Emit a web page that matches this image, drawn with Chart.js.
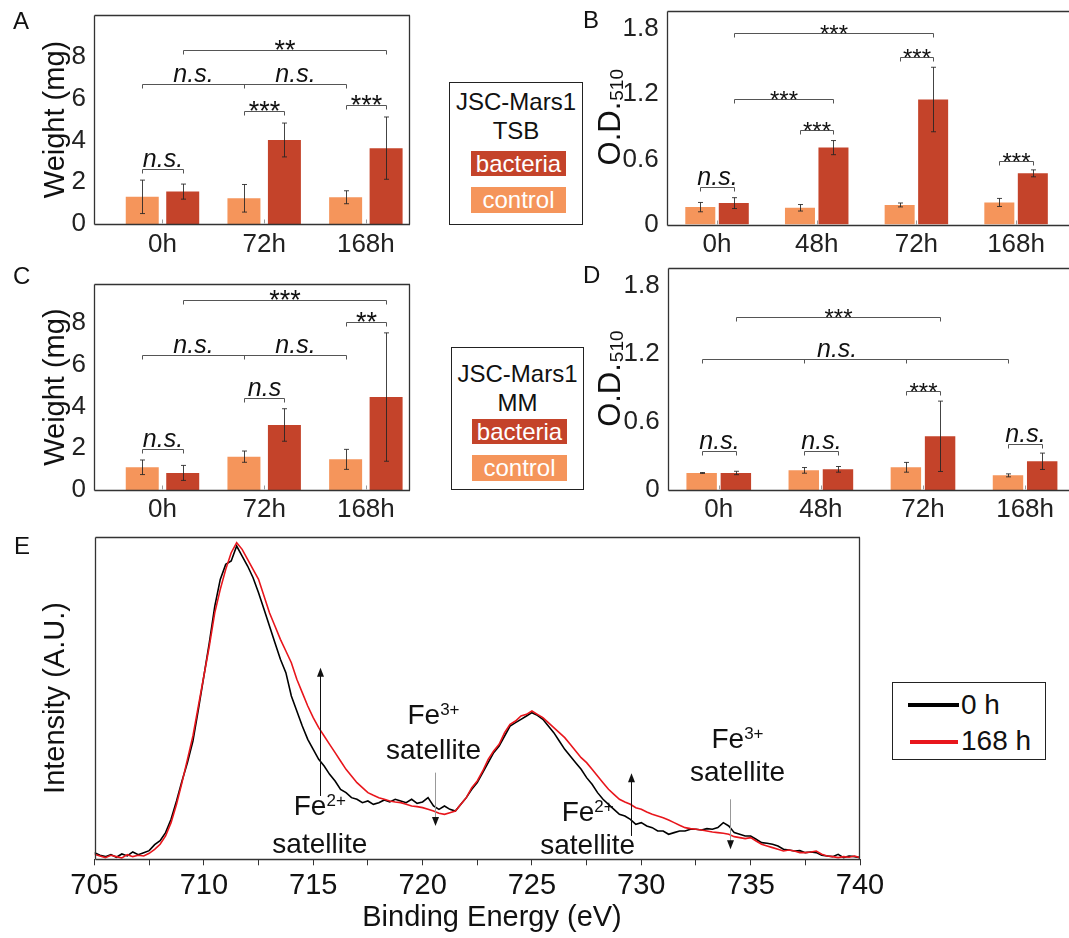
<!DOCTYPE html>
<html>
<head>
<meta charset="utf-8">
<script src="https://cdn.jsdelivr.net/npm/chart.js@4/dist/chart.umd.min.js"></script>
<style>
body { margin: 0; background: #fff; width: 1069px; height: 938px; overflow: hidden; position: relative; font-family: "Liberation Sans", Arial, sans-serif; color: #111; }
canvas { position: absolute; }
.t { position: absolute; white-space: nowrap; }
.let { font-size: 24px; line-height: 24px; }
.box { position: absolute; border: 1px solid #222; box-sizing: border-box; background: #fff; }
.ln { position: absolute; left: 0; width: 100%; text-align: center; font-size: 24px; line-height: 24px; }
.sw { position: absolute; color: #fff; font-size: 24px; text-align: center; }
</style>
</head>
<body>
<canvas id="cA" width="420" height="265" style="left:0;top:0"></canvas>
<canvas id="cB" width="499" height="265" style="left:570px;top:0"></canvas>
<canvas id="cC" width="420" height="265" style="left:0;top:265px"></canvas>
<canvas id="cD" width="499" height="265" style="left:570px;top:265px"></canvas>
<canvas id="cE" width="890" height="408" style="left:0;top:530px"></canvas>

<div class="t let" style="left:13px;top:9px">A</div>
<div class="t let" style="left:583px;top:8px">B</div>
<div class="t let" style="left:13px;top:264px">C</div>
<div class="t let" style="left:583px;top:263px">D</div>
<div class="t let" style="left:14px;top:534px">E</div>

<div class="box" style="left:449px;top:82px;width:134px;height:143px">
  <div class="ln" style="top:7px">JSC-Mars1</div>
  <div class="ln" style="top:36px">TSB</div>
  <div class="sw" id="swB1" style="left:21px;top:68px;width:95px;height:25px;line-height:25px">bacteria</div>
  <div class="sw" id="swC1" style="left:21px;top:104px;width:95px;height:26px;line-height:26px">control</div>
</div>
<div class="box" style="left:451px;top:347px;width:133px;height:143px">
  <div class="ln" style="top:14px">JSC-Mars1</div>
  <div class="ln" style="top:43px">MM</div>
  <div class="sw" id="swB2" style="left:20px;top:71px;width:95px;height:25px;line-height:25px">bacteria</div>
  <div class="sw" id="swC2" style="left:20px;top:107px;width:95px;height:26px;line-height:26px">control</div>
</div>
<div class="box" style="left:892px;top:682px;width:154px;height:78px">
  <div style="position:absolute;left:15px;top:20px;width:51px;height:4px;background:#000"></div>
  <div style="position:absolute;left:17px;top:57px;width:48px;height:4px;background:#E8161C"></div>
  <div class="t" style="left:68px;top:8px;font-size:28px;line-height:28px">0 h</div>
  <div class="t" style="left:68px;top:44px;font-size:28px;line-height:28px">168 h</div>
</div>

<script>
var font = '"Liberation Sans", Arial, sans-serif';
var ctrlColor = '#F5955B';
var bactColor = '#C4432A';

// A: weight, JSC-Mars1 + TSB
var catsA = ['0h', '72h', '168h'];
var ctrlA = [1.30, 1.23, 1.28];
var ctrlErrA = [0.80, 0.66, 0.31];
var bactA = [1.55, 4.02, 3.63];
var bactErrA = [0.36, 0.81, 1.49];
var bracketsA = [
  { pts: [[0, 0], [0, 1]], y: 2.64, text: ['n.s.'] },
  { pts: [[1, 0], [1, 1]], y: 5.41, text: ['***'] },
  { pts: [[2, 0], [2, 1]], y: 5.70, text: ['***'] },
  { pts: [[0, 0], [1, 0], [2, 0]], y: 6.72, text: ['n.s.', 'n.s.'], at: [0.5, 1.5] },
  { pts: [[0, 1], [2, 1]], y: 8.32, text: ['**'] }
];

// B: O.D.510, JSC-Mars1 + TSB
var catsB = ['0h', '48h', '72h', '168h'];
var ctrlB = [0.160, 0.154, 0.180, 0.203];
var ctrlErrB = [0.043, 0.030, 0.018, 0.037];
var bactB = [0.197, 0.708, 1.151, 0.471];
var bactErrB = [0.050, 0.065, 0.297, 0.032];
var bracketsB = [
  { pts: [[0, 0], [0, 1]], y: 0.345, text: ['n.s.'] },
  { pts: [[1, 0], [1, 1]], y: 0.868, text: ['***'] },
  { pts: [[2, 0], [2, 1]], y: 1.545, text: ['***'] },
  { pts: [[3, 0], [3, 1]], y: 0.582, text: ['***'] },
  { pts: [[0, 1], [1, 1]], y: 1.157, text: ['***'] },
  { pts: [[0, 1], [2, 1]], y: 1.763, text: ['***'] }
];

// C: weight, JSC-Mars1 + MM
var catsC = ['0h', '72h', '168h'];
var ctrlC = [1.09, 1.60, 1.47];
var ctrlErrC = [0.35, 0.27, 0.48];
var bactC = [0.82, 3.12, 4.46];
var bactErrC = [0.36, 0.78, 3.08];
var bracketsC = [
  { pts: [[0, 0], [0, 1]], y: 1.95, text: ['n.s.'] },
  { pts: [[1, 0], [1, 1]], y: 4.43, text: ['n.s'] },
  { pts: [[2, 0], [2, 1]], y: 8.08, text: ['**'] },
  { pts: [[0, 0], [1, 0], [2, 0]], y: 6.48, text: ['n.s.', 'n.s.'], at: [0.5, 1.5] },
  { pts: [[0, 1], [2, 1]], y: 9.12, text: ['***'] }
];

// D: O.D.510, JSC-Mars1 + MM
var catsD = ['0h', '48h', '72h', '168h'];
var ctrlD = [0.150, 0.173, 0.200, 0.129];
var ctrlErrD = [0.004, 0.025, 0.043, 0.013];
var bactD = [0.150, 0.182, 0.473, 0.253];
var bactErrD = [0.015, 0.025, 0.310, 0.072];
var bracketsD = [
  { pts: [[0, 0], [0, 1]], y: 0.344, text: ['n.s.'] },
  { pts: [[1, 0], [1, 1]], y: 0.344, text: ['n.s.'] },
  { pts: [[2, 0], [2, 1]], y: 0.873, text: ['***'] },
  { pts: [[3, 0], [3, 1]], y: 0.403, text: ['n.s.'] },
  { pts: [[0, 0], [1, 0], [2, 0], [3, 0]], y: 1.158, text: ['n.s.'], at: [1.32] },
  { pts: [[0, 1], [2, 1]], y: 1.523, text: ['***'] }
];

var weightTicks = [0, 2, 4, 6, 8];
var odTicks = [0, 0.6, 1.2, 1.8];

// E: Fe 2p XPS spectra
var energyE = [705, 705.25, 705.5, 705.75, 706, 706.25, 706.5, 706.75, 707, 707.25, 707.5, 707.75,
  708, 708.25, 708.5, 708.75, 709, 709.25, 709.5, 709.75, 710, 710.25, 710.5, 710.75,
  711, 711.25, 711.5, 711.75, 712, 712.25, 712.5, 712.75, 713, 713.25, 713.5, 713.75,
  714, 714.25, 714.5, 714.75, 715, 715.25, 715.5, 715.75, 716, 716.25, 716.5, 716.75,
  717, 717.25, 717.5, 717.75, 718, 718.25, 718.5, 718.75, 719, 719.25, 719.5, 719.75,
  720, 720.25, 720.5, 720.75, 721, 721.25, 721.5, 721.75, 722, 722.25, 722.5, 722.75,
  723, 723.25, 723.5, 723.75, 724, 724.25, 724.5, 724.75, 725, 725.25, 725.5, 725.75,
  726, 726.25, 726.5, 726.75, 727, 727.25, 727.5, 727.75, 728, 728.25, 728.5, 728.75,
  729, 729.25, 729.5, 729.75, 730, 730.25, 730.5, 730.75, 731, 731.25, 731.5, 731.75,
  732, 732.25, 732.5, 732.75, 733, 733.25, 733.5, 733.75, 734, 734.25, 734.5, 734.75,
  735, 735.25, 735.5, 735.75, 736, 736.25, 736.5, 736.75, 737, 737.25, 737.5, 737.75,
  738, 738.25, 738.5, 738.75, 739, 739.25, 739.5, 739.75, 740];
var spec0h = [20, 12, 8, 14, 6, 16, 10, 22, 14, 20, 26, 44,
  56, 80, 120, 175, 235, 290, 355, 450, 550, 650, 760, 840,
  885, 895, 940, 910, 880, 845, 800, 750, 700, 650, 600, 560,
  490, 445, 400, 360, 330, 300, 280, 255, 235, 210, 200, 185,
  180, 170, 175, 165, 170, 178, 172, 180, 175, 170, 180, 168,
  172, 185, 160, 150, 160, 150, 145, 165, 185, 210, 230, 260,
  290, 320, 340, 370, 400, 410, 420, 430, 440, 432, 420, 400,
  380, 355, 330, 310, 290, 270, 245, 225, 200, 180, 165, 150,
  135, 130, 120, 105, 110, 100, 95, 85, 85, 75, 80, 85,
  85, 90, 90, 88, 92, 90, 95, 110, 100, 80, 75, 70,
  70, 60, 50, 48, 45, 40, 30, 28, 25, 26, 20, 22,
  20, 12, 10, 8, 15, 5, 10, 8, 5];
var spec168h = [15, 10, 5, 12, 8, 4, 14, 8, 12, 10, 18, 30,
  45, 70, 110, 165, 230, 300, 370, 460, 550, 640, 740, 810,
  870, 920, 950, 930, 900, 870, 840, 790, 740, 700, 660, 625,
  590, 540, 500, 460, 425, 395, 370, 345, 320, 295, 270, 250,
  230, 215, 200, 192, 185, 180, 175, 172, 170, 165, 160, 158,
  155, 150, 145, 138, 135, 140, 145, 165, 185, 215, 235, 265,
  300, 325, 345, 380, 405, 415, 430, 435, 445, 435, 425, 410,
  395, 380, 365, 345, 325, 305, 290, 270, 250, 230, 210, 195,
  180, 172, 165, 155, 150, 142, 135, 130, 125, 118, 110, 102,
  95, 92, 90, 88, 85, 82, 80, 78, 75, 68, 65, 62,
  65, 55, 45, 40, 35, 30, 25, 28, 25, 20, 20, 22,
  25, 15, 10, 8, 5, 8, 6, 10, 5];
var tickE = [705, 707.5, 710, 712.5, 715, 717.5, 720, 722.5, 725, 727.5, 730, 732.5, 735, 737.5, 740];
// satellite notes: x (eV), label baselines and arrow ends in intensity units
var notesE = [
  { x: 715.3, sup: '2+', yMain: 132, ySat: 20, ax: 715.33, arrow: [190, 575], gray: false },
  { x: 720.5, sup: '3+', yMain: 405, ySat: 300, ax: 720.56, arrow: [260, 100], gray: true },
  { x: 727.55, sup: '2+', yMain: 115, ySat: 15, ax: 729.54, arrow: [70, 258], gray: false },
  { x: 734.4, sup: '3+', yMain: 335, ySat: 235, ax: 734.07, arrow: [180, 30], gray: true }
];

['swB1', 'swB2'].forEach(function (id) { document.getElementById(id).style.background = bactColor; });
['swC1', 'swC2'].forEach(function (id) { document.getElementById(id).style.background = ctrlColor; });

var decorOf = {};

var decor = {
  id: 'decor',
  afterDatasetsDraw: function (chart) {
    var d = decorOf[chart.canvas.id];
    if (!d) return;
    var ctx = chart.ctx, xs = chart.scales.x, ys = chart.scales.y;
    ctx.save();
    if (d.errors) {
      d.errors.forEach(function (errs, di) {
        chart.getDatasetMeta(di).data.forEach(function (bar, i) {
          var v = chart.data.datasets[di].data[i].y;
          var x = Math.round(bar.x) + 0.5;
          var t = ys.getPixelForValue(v + errs[i]), b = ys.getPixelForValue(v - errs[i]);
          ctx.strokeStyle = 'rgba(35,35,35,0.85)';
          ctx.lineWidth = 1;
          ctx.beginPath();
          ctx.moveTo(x, t); ctx.lineTo(x, b);
          ctx.moveTo(x - 2.5, t); ctx.lineTo(x + 2.5, t);
          ctx.moveTo(x - 2.5, b); ctx.lineTo(x + 2.5, b);
          ctx.stroke();
        });
      });
    }
    if (d.brackets) {
      d.brackets.forEach(function (br) {
        var px = br.pts.map(function (p) { return Math.round(chart.getDatasetMeta(p[1]).data[p[0]].x) + 0.5; });
        var y = Math.round(ys.getPixelForValue(br.y)) + 0.5;
        ctx.strokeStyle = '#555';
        ctx.lineWidth = 1;
        ctx.beginPath();
        ctx.moveTo(px[0], y); ctx.lineTo(px[px.length - 1], y);
        px.forEach(function (x) { ctx.moveTo(x, y); ctx.lineTo(x, y + 4); });
        ctx.stroke();
        br.text.forEach(function (txt, k) {
          var at = br.at ? br.at[k] : (px.length - 1) / 2;
          var i0 = Math.min(Math.floor(at), px.length - 2), f = at - i0;
          var x = px[i0] + (px[i0 + 1] - px[i0]) * f;
          var star = txt.charAt(0) === '*';
          ctx.font = star ? d.starSize + 'px ' + font : 'italic 25px ' + font;
          ctx.textAlign = 'center';
          ctx.textBaseline = 'alphabetic';
          ctx.fillStyle = '#111';
          ctx.fillText(txt, x, star ? y + d.starOff : y - 3);
        });
      });
    }
    if (d.notes) {
      d.notes.forEach(function (n) {
        var x = xs.getPixelForValue(n.x);
        ctx.fillStyle = '#111';
        ctx.textBaseline = 'alphabetic';
        ctx.font = '28px ' + font;
        var w1 = ctx.measureText('Fe').width;
        ctx.font = '17px ' + font;
        var w2 = ctx.measureText(n.sup).width;
        var x0 = x - (w1 + w2) / 2, yb = ys.getPixelForValue(n.yMain);
        ctx.textAlign = 'left';
        ctx.font = '28px ' + font;
        ctx.fillText('Fe', x0, yb);
        ctx.font = '17px ' + font;
        ctx.fillText(n.sup, x0 + w1, yb - 9);
        ctx.font = '28px ' + font;
        ctx.textAlign = 'center';
        ctx.fillText('satellite', x, ys.getPixelForValue(n.ySat));
        var ax = Math.round(xs.getPixelForValue(n.ax)) + 0.5;
        var y0 = ys.getPixelForValue(n.arrow[0]), y1 = ys.getPixelForValue(n.arrow[1]);
        var dir = y1 > y0 ? 1 : -1;
        ctx.strokeStyle = n.gray ? '#999' : '#111';
        ctx.lineWidth = 1;
        ctx.beginPath();
        ctx.moveTo(ax, y0); ctx.lineTo(ax, y1 - dir * 6);
        ctx.stroke();
        ctx.fillStyle = '#111';
        ctx.beginPath();
        ctx.moveTo(ax, y1);
        ctx.lineTo(ax - 3.5, y1 - dir * 9);
        ctx.lineTo(ax + 3.5, y1 - dir * 9);
        ctx.closePath();
        ctx.fill();
      });
    }
    ctx.restore();
  },
  afterDraw: function (chart) {
    var d = decorOf[chart.canvas.id];
    if (!d) return;
    var ctx = chart.ctx, a = chart.chartArea;
    ctx.save();
    // frame
    var l = Math.round(a.left) + 0.5, r = Math.round(a.right) - 0.5, t = Math.round(a.top) + 0.5, b = Math.round(a.bottom) + 0.5;
    ctx.strokeStyle = '#333';
    ctx.lineWidth = 1.3;
    ctx.beginPath();
    if (d.sides.indexOf('t') >= 0) { ctx.moveTo(l, t); ctx.lineTo(a.right, t); }
    if (d.sides.indexOf('r') >= 0) { ctx.moveTo(r, t); ctx.lineTo(r, b); }
    ctx.moveTo(l, t); ctx.lineTo(l, b);
    ctx.moveTo(l, b); ctx.lineTo(a.right, b);
    ctx.stroke();
    if (d.inTicks) {
      ctx.strokeStyle = '#999';
      ctx.lineWidth = 1;
      ctx.beginPath();
      chart.scales.x.ticks.forEach(function (tk) {
        var x = Math.round(chart.scales.x.getPixelForValue(tk.value)) + 0.5;
        ctx.moveTo(x, b - 1); ctx.lineTo(x, b - 5);
      });
      ctx.stroke();
    }
    // y title, with optional subscript
    if (d.ytitle) {
      var yt = d.ytitle;
      ctx.font = yt.size + 'px ' + font;
      var w1 = ctx.measureText(yt.text).width, w2 = 0;
      if (yt.sub) { ctx.font = yt.subSize + 'px ' + font; w2 = ctx.measureText(yt.sub).width; }
      ctx.translate(yt.x, (a.top + a.bottom) / 2);
      ctx.rotate(-Math.PI / 2);
      ctx.fillStyle = '#111';
      ctx.textAlign = 'left';
      ctx.textBaseline = 'alphabetic';
      ctx.font = yt.size + 'px ' + font;
      ctx.fillText(yt.text, -(w1 + w2) / 2, 0);
      if (yt.sub) { ctx.font = yt.subSize + 'px ' + font; ctx.fillText(yt.sub, -(w1 + w2) / 2 + w1 + 1, yt.subDy); }
      ctx.setTransform(1, 0, 0, 1, 0, 0);
    }
    if (d.xtitle) {
      ctx.font = d.xtitle.size + 'px ' + font;
      ctx.fillStyle = '#111';
      ctx.textAlign = 'center';
      ctx.textBaseline = 'alphabetic';
      ctx.fillText(d.xtitle.text, d.xtitle.x, d.xtitle.y);
    }
    ctx.restore();
  }
};

function noPad(s) { s.paddingTop = 0; s.paddingBottom = 0; s.paddingLeft = 0; s.paddingRight = 0; }

function barChart(id, cats, ctrl, ctrlErr, bact, bactErr, brackets, o) {
  decorOf[id] = { errors: [ctrlErr, bactErr], brackets: brackets, sides: o.sides, inTicks: true,
    ytitle: o.ytitle, starSize: o.starSize, starOff: o.starOff };
  return new Chart(document.getElementById(id), {
    type: 'bar',
    data: {
      datasets: [
        { label: 'control', data: ctrl.map(function (v, i) { return { x: i + 1, y: v }; }), backgroundColor: ctrlColor },
        { label: 'bacteria', data: bact.map(function (v, i) { return { x: i + 1, y: v }; }), backgroundColor: bactColor }
      ]
    },
    options: {
      responsive: false,
      animation: false,
      devicePixelRatio: 1,
      layout: { padding: { top: o.top, right: o.right, left: 0, bottom: 0 } },
      datasets: { bar: { categoryPercentage: o.cp, barPercentage: o.bp } },
      scales: {
        x: {
          type: 'linear', min: o.xmin, max: o.xmax, bounds: 'data', offset: false,
          grid: { display: false, drawTicks: false }, border: { display: false },
          afterBuildTicks: function (s) { s.ticks = cats.map(function (c, i) { return { value: i + 1 }; }); },
          afterFit: function (s) { s.height = o.bottom; noPad(s); },
          ticks: { padding: o.xpad, color: '#222', autoSkip: false, maxRotation: 0, font: { family: font, size: 26 },
            callback: function (v) { return cats[v - 1]; } }
        },
        y: {
          min: 0, max: o.ymax, bounds: 'data',
          grid: { display: false, drawTicks: false }, border: { display: false },
          afterBuildTicks: function (s) { s.ticks = o.yticks.map(function (v) { return { value: v }; }); },
          afterFit: function (s) { s.width = o.left; noPad(s); },
          ticks: { padding: 8, color: '#222', font: { family: font, size: 26 }, callback: function (v) { return String(v); } }
        }
      },
      plugins: { legend: { display: false }, tooltip: { enabled: false } }
    },
    plugins: [decor]
  });
}

barChart('cA', catsA, ctrlA, ctrlErrA, bactA, bactErrA, bracketsA, {
  left: 94, top: 15, right: 10, bottom: 41, xmin: 0.3265, xmax: 3.434, ymax: 10, yticks: weightTicks,
  cp: 0.796, bp: 0.815, xpad: 5, sides: 'tr', starSize: 27, starOff: 8,
  ytitle: { text: 'Weight (mg)', size: 29, x: 64 }
});
barChart('cC', catsC, ctrlC, ctrlErrC, bactC, bactErrC, bracketsC, {
  left: 94, top: 19.3, right: 10, bottom: 40, xmin: 0.3265, xmax: 3.434, ymax: 9.87, yticks: weightTicks,
  cp: 0.796, bp: 0.815, xpad: 4, sides: 'tr', starSize: 27, starOff: 8,
  ytitle: { text: 'Weight (mg)', size: 29, x: 64 }
});
barChart('cB', catsB, ctrlB, ctrlErrB, bactB, bactErrB, bracketsB, {
  left: 96.7, top: 11, right: 0, bottom: 40.5, xmin: 0.495, xmax: 4.531, ymax: 1.966, yticks: odTicks,
  cp: 0.672, bp: 0.896, xpad: 5, sides: 't', starSize: 24, starOff: 8,
  ytitle: { text: 'O.D.', sub: '510', size: 31, subSize: 19, subDy: 3, x: 50 }
});
barChart('cD', catsD, ctrlD, ctrlErrD, bactD, bactErrD, bracketsD, {
  left: 97.7, top: 3.3, right: 0, bottom: 40, xmin: 0.5, xmax: 4.43, ymax: 1.953, yticks: odTicks,
  cp: 0.67, bp: 0.89, xpad: 4, sides: 't', starSize: 24, starOff: 8,
  ytitle: { text: 'O.D.', sub: '510', size: 31, subSize: 19, subDy: 3, x: 50 }
});

decorOf.cE = { sides: 'tr', notes: notesE,
  ytitle: { text: 'Intensity (A.U.)', size: 29, x: 64 },
  xtitle: { text: 'Binding Energy (eV)', size: 29, x: 492, y: 396 } };

new Chart(document.getElementById('cE'), {
  type: 'line',
  data: {
    datasets: [
      { label: '168 h', data: energyE.map(function (e, i) { return { x: e, y: spec168h[i] }; }),
        borderColor: '#E8161C', borderWidth: 1.6, pointRadius: 0, tension: 0, order: 1 },
      { label: '0 h', data: energyE.map(function (e, i) { return { x: e, y: spec0h[i] }; }),
        borderColor: '#000', borderWidth: 1.6, pointRadius: 0, tension: 0, order: 2 }
    ]
  },
  options: {
    responsive: false,
    animation: false,
    devicePixelRatio: 1,
    layout: { padding: { top: 6.7, right: 30, left: 0, bottom: 0 } },
    scales: {
      x: {
        type: 'linear', min: 705, max: 740, bounds: 'data',
        grid: { display: true, drawOnChartArea: false, drawTicks: true, tickLength: 6, color: '#333', lineWidth: 1 },
        border: { display: false },
        afterBuildTicks: function (s) { s.ticks = tickE.map(function (v) { return { value: v }; }); },
        afterFit: function (s) { s.height = 78.7; noPad(s); },
        ticks: { padding: 3, color: '#111', autoSkip: false, maxRotation: 0, font: { family: font, size: 29 },
          callback: function (v) { return v % 5 === 0 ? String(v) : ''; } }
      },
      y: {
        min: 0, max: 968, bounds: 'data',
        grid: { display: false, drawTicks: false }, border: { display: false },
        ticks: { display: false },
        afterFit: function (s) { s.width = 94.5; noPad(s); }
      }
    },
    plugins: { legend: { display: false }, tooltip: { enabled: false } }
  },
  plugins: [decor]
});
</script>
</body>
</html>
